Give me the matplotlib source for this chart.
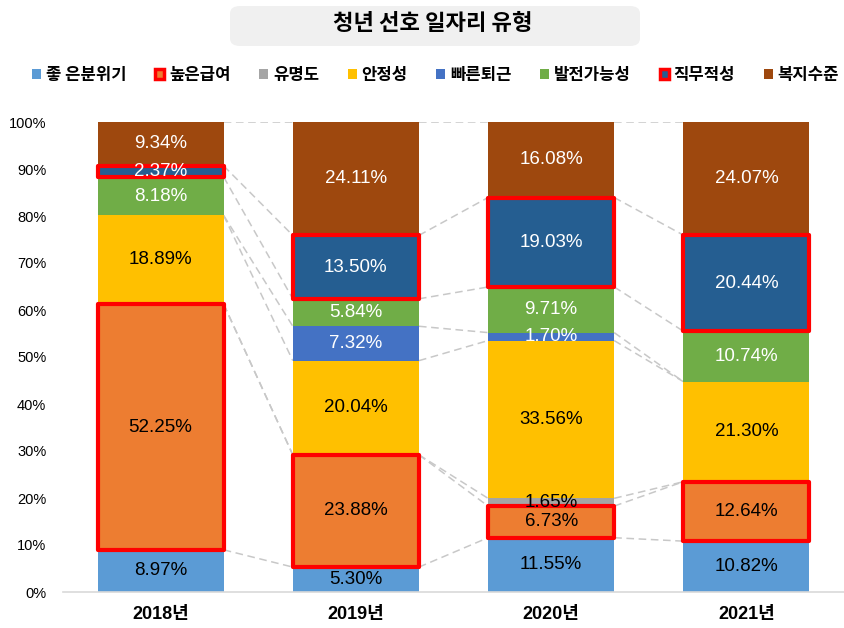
import numpy as np
import matplotlib.pyplot as plt
from matplotlib.patches import Patch, FancyBboxPatch

plt.rcParams['font.family'] = ['Liberation Sans', 'Noto Sans CJK KR', 'DejaVu Sans']

years = ['2018년', '2019년', '2020년', '2021년']
series = ['좋은분위기', '높은급여', '유명도', '안정성', '빠른퇴근', '발전가능성', '직무적성', '복지수준']
legend_names = ['좋 은분위기', '높은급여', '유명도', '안정성', '빠른퇴근', '발전가능성', '직무적성', '복지수준']

good_mood = [8.97, 5.30, 11.55, 10.82]
high_pay = [52.25, 23.88, 6.73, 12.64]
fame = [0.0, 0.0, 1.65, 0.0]
stability = [18.89, 20.04, 33.56, 21.30]
leave_early = [0.0, 7.32, 1.70, 0.0]
growth = [8.18, 5.84, 9.71, 10.74]
aptitude = [2.37, 13.50, 19.03, 20.44]
welfare = [9.34, 24.11, 16.08, 24.07]

values = [good_mood, high_pay, fame, stability, leave_early, growth, aptitude, welfare]
colors = ['#5B9BD5', '#ED7D31', '#A5A5A5', '#FFC000', '#4472C4', '#70AD47', '#255E91', '#9E480E']
text_colors = ['black', 'black', 'black', 'black', 'white', 'white', 'white', 'white']
outlined = ['높은급여', '직무적성']

fig = plt.figure(figsize=(8.44, 6.28), dpi=100)
ax = fig.add_axes([63 / 844, 36 / 628, 781 / 844, 470 / 628])

x = np.arange(len(years))
width = 0.646
bottom = np.zeros(len(years))

for name, vals, col, tc in zip(series, values, colors, text_colors):
    vals = np.array(vals) / 100
    if name in outlined:
        bars = ax.bar(x, vals, width, bottom=bottom, color=col, edgecolor='#FF0000',
                      linewidth=3, joinstyle='round', zorder=3)
    else:
        bars = ax.bar(x, vals, width, bottom=bottom, color=col, edgecolor='none', zorder=2)
    for i, v in enumerate(vals):
        if v > 0:
            ax.text(x[i], bottom[i] + v / 2, f'{v * 100:.2f}%', ha='center', va='center',
                    color=tc, fontsize=13.5, zorder=5)
    top = bottom + vals
    # series lines between bars
    for i in range(len(years) - 1):
        ax.plot([x[i] + width / 2, x[i + 1] - width / 2], [top[i], top[i + 1]],
                color='#C8C8C8', lw=1.1, ls=(0, (5, 3)), zorder=1)
    bottom = top

ax.set_xlim(-0.5, 3.5)
ax.set_ylim(0, 1)
ax.set_yticks(np.arange(0, 1.01, 0.1))
ax.set_yticklabels([f'{int(round(t * 100))}%' for t in np.arange(0, 1.01, 0.1)], fontsize=10.5)
ax.set_xticks(x)
ax.set_xticklabels(years, fontsize=13, fontweight='bold')
ax.tick_params(length=0)
ax.tick_params(axis='x', pad=10)
ax.tick_params(axis='y', pad=12)
for s in ['top', 'right', 'left']:
    ax.spines[s].set_visible(False)
ax.spines['bottom'].set_color('#D9D9D9')
ax.spines['bottom'].set_linewidth(1.2)

# legend
handles = []
for name, col in zip(series, colors):
    if name in outlined:
        handles.append(Patch(facecolor=col, edgecolor='#FF0000', linewidth=2.5))
    else:
        handles.append(Patch(facecolor=col, edgecolor='none'))
leg = fig.legend(handles, legend_names, loc='center', bbox_to_anchor=(0.516, 1 - 75 / 628),
                 ncol=8, frameon=False, handlelength=0.55, handleheight=0.55, handletextpad=0.3,
                 columnspacing=1.7, prop={'family': ['Noto Sans CJK KR'], 'weight': 'bold', 'size': 12})

# title box
box = FancyBboxPatch((230 / 844, 1 - 46 / 628), 410 / 844, 40 / 628,
                     boxstyle='round,pad=0,rounding_size=0.012', transform=fig.transFigure,
                     facecolor='#F0F0F0', edgecolor='none')
fig.patches.append(box)
fig.text(433 / 844, 1 - 24 / 628, '청년 선호 일자리 유형', ha='center', va='center',
         fontsize=16, fontweight='bold', family=['Noto Sans CJK KR'])

fig.savefig('out.png', dpi=100)
